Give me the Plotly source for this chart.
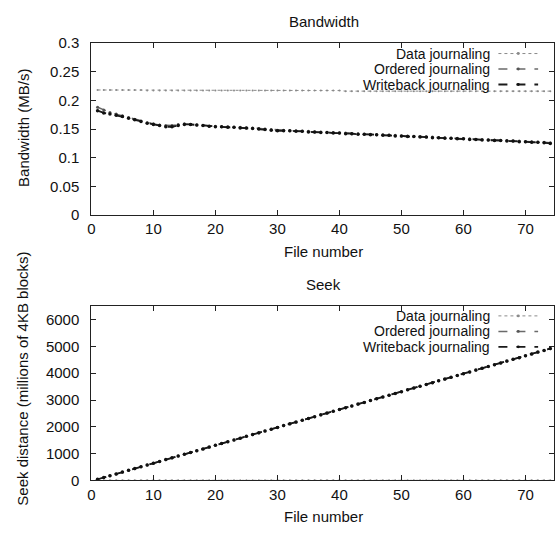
import plotly.graph_objects as go

files = list(range(1, 75))

bw_data = [0.218, 0.218, 0.218, 0.218, 0.218, 0.218, 0.218, 0.218, 0.217, 0.217,
           0.217, 0.217, 0.217, 0.217, 0.217, 0.217, 0.217, 0.217, 0.217, 0.217,
           0.217, 0.217, 0.217, 0.217, 0.217, 0.217, 0.217, 0.217, 0.217, 0.217,
           0.217, 0.217, 0.217, 0.217, 0.217, 0.217, 0.217, 0.217, 0.217, 0.217,
           0.216, 0.216, 0.216, 0.216, 0.216, 0.216, 0.216, 0.216, 0.216, 0.216,
           0.216, 0.216, 0.216, 0.216, 0.216, 0.216, 0.216, 0.216, 0.216, 0.216,
           0.216, 0.216, 0.216, 0.216, 0.216, 0.216, 0.216, 0.216, 0.216, 0.216,
           0.216, 0.216, 0.216, 0.216]
bw_ordered = [0.188, 0.183, 0.179, 0.176, 0.173, 0.170, 0.167, 0.164, 0.161, 0.159,
              0.157, 0.156, 0.156, 0.158, 0.159, 0.158, 0.157, 0.156, 0.155, 0.155,
              0.154, 0.154, 0.153, 0.153, 0.152, 0.152, 0.151, 0.150, 0.149, 0.148,
              0.148, 0.147, 0.147, 0.146, 0.146, 0.145, 0.145, 0.144, 0.144, 0.143,
              0.143, 0.142, 0.142, 0.141, 0.141, 0.140, 0.140, 0.139, 0.139, 0.138,
              0.138, 0.137, 0.137, 0.136, 0.136, 0.135, 0.135, 0.134, 0.134, 0.133,
              0.133, 0.132, 0.132, 0.131, 0.131, 0.130, 0.130, 0.129, 0.129, 0.128,
              0.128, 0.127, 0.127, 0.126]
bw_writeback = [0.182, 0.178, 0.176, 0.174, 0.172, 0.169, 0.166, 0.163, 0.160, 0.158,
                0.156, 0.154, 0.154, 0.156, 0.158, 0.158, 0.157, 0.156, 0.155, 0.154,
                0.154, 0.153, 0.153, 0.152, 0.152, 0.151, 0.150, 0.149, 0.148, 0.147,
                0.147, 0.147, 0.146, 0.146, 0.145, 0.145, 0.144, 0.144, 0.143, 0.143,
                0.142, 0.142, 0.141, 0.141, 0.140, 0.140, 0.139, 0.139, 0.138, 0.138,
                0.137, 0.137, 0.136, 0.136, 0.135, 0.135, 0.134, 0.134, 0.133, 0.133,
                0.132, 0.132, 0.131, 0.131, 0.130, 0.130, 0.129, 0.129, 0.128, 0.128,
                0.127, 0.127, 0.126, 0.125]

seek_data = [5] * 74
seek_ordered = [40, 110, 175, 240, 310, 375, 440, 510, 575, 640,
                710, 775, 840, 910, 975, 1040, 1110, 1175, 1240, 1310,
                1375, 1440, 1510, 1575, 1640, 1710, 1775, 1845, 1910, 1975,
                2045, 2110, 2175, 2245, 2310, 2375, 2445, 2510, 2580, 2645,
                2710, 2780, 2845, 2910, 2980, 3045, 3110, 3180, 3245, 3310,
                3380, 3445, 3515, 3580, 3645, 3715, 3780, 3845, 3915, 3980,
                4045, 4115, 4180, 4250, 4315, 4380, 4450, 4515, 4580, 4650,
                4715, 4785, 4850, 4915]
seek_writeback = [45, 112, 178, 243, 312, 378, 444, 512, 578, 644,
                  712, 778, 845, 912, 978, 1045, 1112, 1178, 1245, 1312,
                  1378, 1445, 1512, 1578, 1645, 1712, 1778, 1848, 1912, 1978,
                  2048, 2112, 2178, 2248, 2312, 2378, 2448, 2512, 2582, 2648,
                  2712, 2782, 2848, 2912, 2982, 3048, 3112, 3182, 3248, 3312,
                  3382, 3448, 3518, 3582, 3648, 3718, 3782, 3848, 3918, 3982,
                  4048, 4118, 4182, 4252, 4318, 4382, 4452, 4518, 4582, 4652,
                  4718, 4788, 4852, 4920]

series_names = ["Data journaling", "Ordered journaling", "Writeback journaling"]
styles = [
    dict(color="#8a8a8a", width=1, dash="dot", msize=2, mcolor="#8a8a8a"),
    dict(color="#6a6a6a", width=1.5, dash="dash", msize=3, mcolor="#555555"),
    dict(color="#1a1a1a", width=1.8, dash="dash", msize=3.5, mcolor="#111111"),
]

FONT = "Liberation Sans, Arial, sans-serif"
W, H = 555, 533
XL, XR = 88, 554
TOP1, BOT1 = 35, 213
TOP2, BOT2 = 307, 487

fig = go.Figure()
for ys, xa, ya in [((bw_data, bw_ordered, bw_writeback), "x", "y"),
                   ((seek_data, seek_ordered, seek_writeback), "x2", "y2")]:
    for name, vals, st in zip(series_names, ys, styles):
        fig.add_trace(go.Scatter(
            x=files, y=vals, name=name, xaxis=xa, yaxis=ya, mode="lines+markers",
            line=dict(color=st["color"], width=st["width"], dash=st["dash"]),
            marker=dict(size=st["msize"], color=st["mcolor"]),
            showlegend=False))

def py(p):
    return 1 - p / H

axis_common = dict(showline=True, linecolor="#222", linewidth=1.2, mirror="ticks",
                   ticks="inside", ticklen=5, tickcolor="#222", showgrid=False,
                   zeroline=False, tickfont=dict(family=FONT, size=15, color="#111"))

fig.update_layout(
    width=W, height=H, margin=dict(l=0, r=0, t=0, b=0),
    paper_bgcolor="white", plot_bgcolor="white",
    xaxis=dict(domain=[XL / W, XR / W], range=[0, 74.6], anchor="y",
               tickvals=[0, 10, 20, 30, 40, 50, 60, 70], **axis_common),
    yaxis=dict(domain=[py(BOT1), py(TOP1)], range=[0, 0.3], anchor="x",
               tickvals=[0, 0.05, 0.1, 0.15, 0.2, 0.25, 0.3],
               ticktext=["0", "0.05", "0.1", "0.15", "0.2", "0.25", "0.3"],
               ticklabelstandoff=8, **axis_common),
    xaxis2=dict(domain=[XL / W, XR / W], range=[0, 74.6], anchor="y2",
                tickvals=[0, 10, 20, 30, 40, 50, 60, 70], **axis_common),
    yaxis2=dict(domain=[py(BOT2), py(TOP2)], range=[0, 6500], anchor="x2",
                tickvals=[0, 1000, 2000, 3000, 4000, 5000, 6000], tickformat="d",
                ticklabelstandoff=8, **axis_common),
)

ann = []
def txt(x, y, s, size=15, **kw):
    d = dict(x=x / W, y=py(y), xref="paper", yref="paper", text=s, showarrow=False,
             xanchor="center", yanchor="middle", borderpad=0,
             font=dict(family=FONT, size=size, color="#111"))
    d.update(kw)
    ann.append(d)

txt(322, 13, "Bandwidth")
txt(322, 285, "Seek")
txt(322, 251, "File number")
txt(322, 524, "File number")
txt(19, 123, "Bandwidth (MB/s)", textangle=-90)
txt(19, 382, "Seek distance (millions of 4KB blocks)", textangle=-90)

shapes = []
for rows in [(46, 62, 78), (317, 333, 349)]:
    for name, yy, st in zip(series_names, rows, styles):
        txt(491, yy, name, size=14, xanchor="right")
        shapes.append(dict(type="line", xref="paper", yref="paper",
                           x0=498 / W, x1=538 / W, y0=py(yy), y1=py(yy),
                           line=dict(color=st["color"], width=st["width"], dash=st["dash"])))
        shapes.append(dict(type="circle", xref="paper", yref="paper",
                           x0=516.5 / W, x1=519.5 / W, y0=py(yy + 1.5), y1=py(yy - 1.5),
                           fillcolor=st["mcolor"], line=dict(width=0)))

fig.update_layout(annotations=ann, shapes=shapes)
fig.write_html("out.html")
